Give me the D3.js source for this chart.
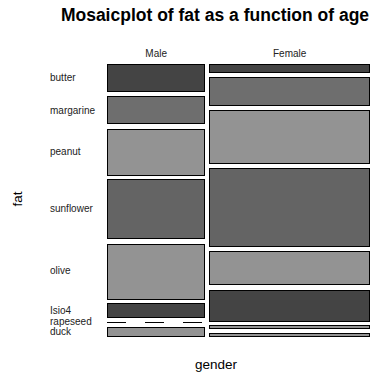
<!DOCTYPE html>
<html>
<head>
<meta charset="utf-8">
<script src="https://cdn.jsdelivr.net/npm/d3@7"></script>
<style>
  body { margin: 0; background: #fff; }
  text { font-family: "Liberation Sans", Arial, sans-serif; }
</style>
</head>
<body>
<script>
// data
const genders = ["Male", "Female"];
const fats = ["butter", "margarine", "peanut", "sunflower", "olive", "Isio4", "rapeseed", "duck"];
const maleCounts = [6, 6, 10, 13, 12, 3, 0, 2];
const femaleCounts = [3, 10, 19, 28, 12, 11, 1, 1];
const fatColors = ["#444444", "#6e6e6e", "#939393", "#646464", "#939393", "#444444", "#939393", "#939393"];

(function () {
const W = 371, H = 376;
const plotLeft = 107, plotRight = 370, plotTop = 64, plotBottom = 336;
const xGap = 4, yGap = 5;

const counts = [maleCounts, femaleCounts];
const totals = counts.map(c => d3.sum(c));

const svg = d3.select("body").append("svg")
  .attr("width", W)
  .attr("height", H);

// widths of columns
const xw = d3.scaleLinear()
  .domain([0, d3.sum(totals)])
  .range([0, (plotRight - plotLeft) - xGap * (genders.length - 1)]);

let x0 = plotLeft;
genders.forEach(function(g, gi) {
  const colW = xw(totals[gi]);
  const yh = d3.scaleLinear()
    .domain([0, totals[gi]])
    .range([0, (plotBottom - plotTop) - yGap * (fats.length - 1)]);

  // column label
  svg.append("text")
    .attr("x", x0 + colW / 2)
    .attr("y", 57)
    .attr("text-anchor", "middle")
    .attr("font-size", 10)
    .attr("fill", "#222")
    .text(g);

  let y0 = plotTop;
  fats.forEach(function(f, fi) {
    const h = yh(counts[gi][fi]);
    if (counts[gi][fi] === 0) {
      svg.append("line")
        .attr("x1", x0).attr("x2", x0 + colW)
        .attr("y1", Math.round(y0) + 0.5).attr("y2", Math.round(y0) + 0.5)
        .attr("stroke", "#000")
        .attr("stroke-width", 1)
        .attr("stroke-dasharray", "19,19");
    } else {
      svg.append("rect")
        .attr("x", Math.round(x0) + 0.5)
        .attr("y", Math.round(y0) + 0.5)
        .attr("width", Math.max(Math.round(colW) - 1, 0))
        .attr("height", Math.max(Math.round(h), 1))
        .attr("fill", fatColors[fi])
        .attr("stroke", "#000")
        .attr("stroke-width", 1);
    }
    // row labels follow the first column
    if (gi === 0) {
      svg.append("text")
        .attr("x", 50)
        .attr("y", y0 + h / 2)
        .attr("dy", "0.35em")
        .attr("font-size", 10)
        .attr("fill", "#222")
        .text(f);
    }
    y0 += h + yGap;
  });
  x0 += colW + xGap;
});

// title and axis labels
svg.append("text")
  .attr("x", 215)
  .attr("y", 21)
  .attr("text-anchor", "middle")
  .attr("font-size", 17.5)
  .attr("font-weight", "bold")
  .text("Mosaicplot of fat as a function of age");

svg.append("text")
  .attr("x", 216)
  .attr("y", 369)
  .attr("text-anchor", "middle")
  .attr("font-size", 13.5)
  .text("gender");

svg.append("text")
  .attr("transform", "translate(22,199) rotate(-90)")
  .attr("text-anchor", "middle")
  .attr("font-size", 13.5)
  .text("fat");
})();
</script>
</body>
</html>
